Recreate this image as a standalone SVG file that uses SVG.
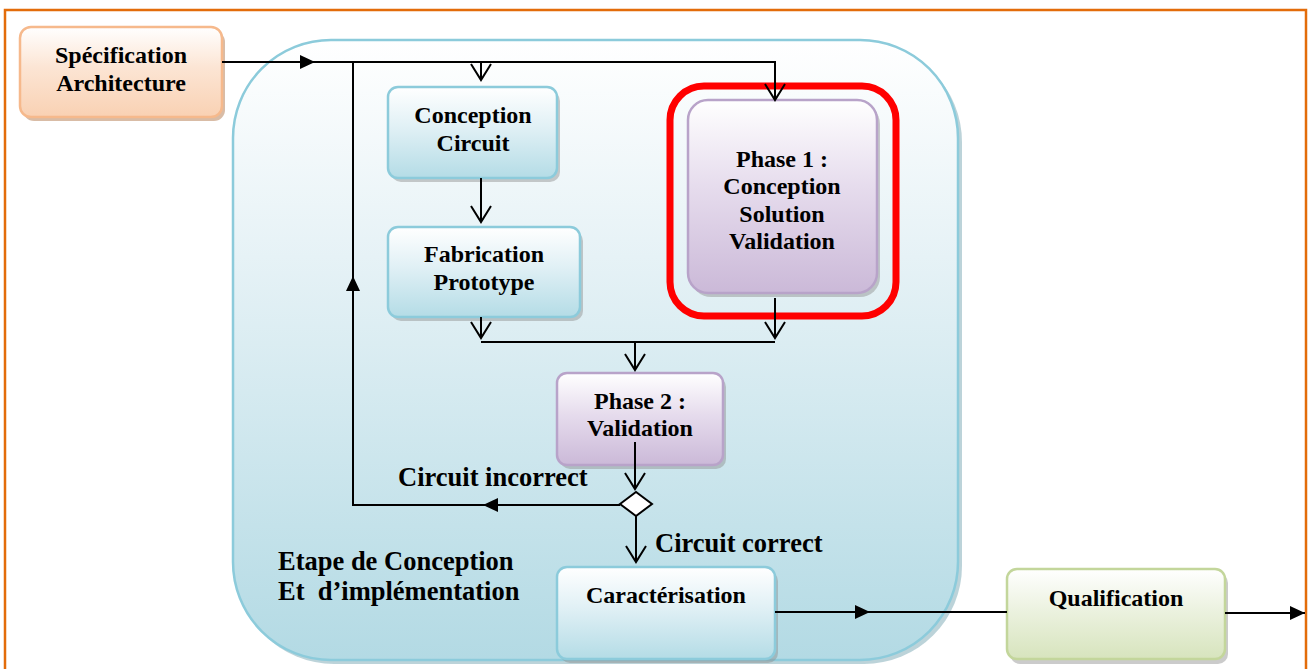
<svg xmlns="http://www.w3.org/2000/svg" width="1309" height="669" viewBox="0 0 1309 669">
<defs>
<linearGradient id="gBig" x1="0" y1="0" x2="0" y2="1"><stop offset="0" stop-color="#ffffff"/><stop offset="0.35" stop-color="#e6f2f6"/><stop offset="1" stop-color="#b3dae4"/></linearGradient>
<linearGradient id="gBlue" x1="0" y1="0" x2="0" y2="1"><stop offset="0" stop-color="#ffffff"/><stop offset="0.45" stop-color="#e0f0f5"/><stop offset="1" stop-color="#b4dce6"/></linearGradient>
<linearGradient id="gPurple" x1="0" y1="0" x2="0" y2="1"><stop offset="0" stop-color="#ffffff"/><stop offset="0.45" stop-color="#e6dced"/><stop offset="1" stop-color="#cbb9d8"/></linearGradient>
<linearGradient id="gPeach" x1="0" y1="0" x2="0" y2="1"><stop offset="0" stop-color="#ffffff"/><stop offset="0.45" stop-color="#fce5d4"/><stop offset="1" stop-color="#f9d1b3"/></linearGradient>
<linearGradient id="gGreen" x1="0" y1="0" x2="0" y2="1"><stop offset="0" stop-color="#ffffff"/><stop offset="0.45" stop-color="#ecf2e0"/><stop offset="1" stop-color="#d7e4bd"/></linearGradient>
<marker id="open" markerUnits="userSpaceOnUse" viewBox="0 -12 20 24" markerWidth="20" markerHeight="24" refX="17" refY="0" orient="auto"><path d="M1,-10 L17,0 L1,10" fill="none" stroke="#000" stroke-width="2"/></marker>
<marker id="fill" markerUnits="userSpaceOnUse" viewBox="0 -8 16 16" markerWidth="16" markerHeight="16" refX="15" refY="0" orient="auto"><path d="M0,-7 L15,0 L0,7 Z" fill="#000"/></marker>
<style>
text{font-family:"Liberation Serif","Times New Roman","DejaVu Serif",serif;font-weight:bold;fill:#000}
.t{text-anchor:middle;font-size:24px}
.lab{font-size:26.5px}
.ln{fill:none;stroke:#000;stroke-width:2}
.sh{fill:#8c8c8c;opacity:0.45}
</style>
</defs>
<rect x="0" y="0" width="1309" height="669" fill="#ffffff"/>
<rect x="5" y="10" width="1301" height="700" fill="none" stroke="#e36c0a" stroke-width="2.5"/>

<g id="container">
<rect x="236" y="44" width="726" height="620" rx="98" fill="#8fb5c0" opacity="0.6"/>
<rect x="233" y="40" width="725" height="620" rx="98" fill="url(#gBig)" stroke="#8ccbdb" stroke-width="2.5"/>
</g>

<g id="spec">
<rect x="23" y="31" width="202" height="90" rx="11" fill="#c9a080" opacity="0.7"/>
<rect x="20" y="27" width="202" height="90" rx="11" fill="url(#gPeach)" stroke="#f6b98c" stroke-width="2.5"/>
<text class="t" x="121" y="63">Spécification</text>
<text class="t" x="121" y="91">Architecture</text>
</g>

<g id="conception">
<rect x="391" y="91" width="169" height="91" rx="10" class="sh"/>
<rect x="388" y="87" width="169" height="91" rx="10" fill="url(#gBlue)" stroke="#8ccbdb" stroke-width="2.5"/>
<text class="t" x="473" y="123">Conception</text>
<text class="t" x="473" y="151">Circuit</text>
</g>

<g id="fabrication">
<rect x="391" y="231" width="192" height="90" rx="10" class="sh"/>
<rect x="388" y="227" width="192" height="90" rx="10" fill="url(#gBlue)" stroke="#8ccbdb" stroke-width="2.5"/>
<text class="t" x="484" y="262">Fabrication</text>
<text class="t" x="484" y="290">Prototype</text>
</g>

<g id="phase1">
<rect x="691" y="104" width="189" height="193" rx="20" class="sh"/>
<rect x="688" y="100" width="189" height="193" rx="20" fill="url(#gPurple)" stroke="#b8a3c9" stroke-width="2.5"/>
<text class="t" x="782" y="167">Phase 1 :</text>
<text class="t" x="782" y="194">Conception</text>
<text class="t" x="782" y="222">Solution</text>
<text class="t" x="782" y="249">Validation</text>
<rect x="670" y="86" width="226" height="230" rx="34" fill="none" stroke="#ff0000" stroke-width="7"/>
</g>

<g id="phase2">
<rect x="560" y="377" width="166" height="92" rx="10" class="sh"/>
<rect x="557" y="373" width="166" height="92" rx="10" fill="url(#gPurple)" stroke="#b8a3c9" stroke-width="2.5"/>
<text class="t" x="640" y="409">Phase 2 :</text>
<text class="t" x="640" y="436">Validation</text>
</g>

<g id="caracterisation">
<rect x="560" y="571" width="218" height="92" rx="10" class="sh"/>
<rect x="557" y="567" width="218" height="92" rx="10" fill="url(#gBlue)" stroke="#8ccbdb" stroke-width="2.5"/>
<text class="t" x="666" y="603">Caractérisation</text>
</g>

<g id="qualification">
<rect x="1010" y="573" width="218" height="91" rx="10" class="sh"/>
<rect x="1007" y="569" width="218" height="90" rx="10" fill="url(#gGreen)" stroke="#c3d69b" stroke-width="2.5"/>
<text class="t" x="1116" y="606">Qualification</text>
</g>

<g id="decision">
<polygon points="620,504 636,492 652,504 636,516" fill="#ffffff" stroke="#000" stroke-width="2"/>
</g>

<g id="connectors">
<path class="ln" d="M222,62 H315" stroke-width="2.5" marker-end="url(#fill)"/>
<path class="ln" d="M315,62 H775 V100" marker-end="url(#open)"/>
<path class="ln" d="M481,62 V80" marker-end="url(#open)"/>
<path class="ln" d="M481,178 V222" marker-end="url(#open)"/>
<path class="ln" d="M481,317 V338" marker-end="url(#open)"/>
<path class="ln" d="M775,298 V338" marker-end="url(#open)"/>
<path class="ln" d="M481,342 H775"/>
<path class="ln" d="M635,342 V370" marker-end="url(#open)"/>
<path class="ln" d="M635,442 V489" marker-end="url(#open)"/>
<path class="ln" d="M620,505 H483" stroke-width="2.5" marker-end="url(#fill)"/>
<path class="ln" d="M483,505 H353 V276" marker-end="url(#fill)"/>
<path class="ln" d="M353,276 V62"/>
<path class="ln" d="M636,516 V562" marker-end="url(#open)"/>
<path class="ln" d="M775,612 H870" stroke-width="2.5" marker-end="url(#fill)"/>
<path class="ln" d="M870,612 H1007"/>
<path class="ln" d="M1225,613 H1305" stroke-width="2.5" marker-end="url(#fill)"/>
</g>

<g id="labels">
<text class="lab" x="398" y="486">Circuit incorrect</text>
<text class="lab" x="655" y="552">Circuit correct</text>
<text class="lab" x="278" y="570">Etape de Conception</text>
<text class="lab" x="278" y="600" xml:space="preserve">Et  d’implémentation</text>
</g>
</svg>
